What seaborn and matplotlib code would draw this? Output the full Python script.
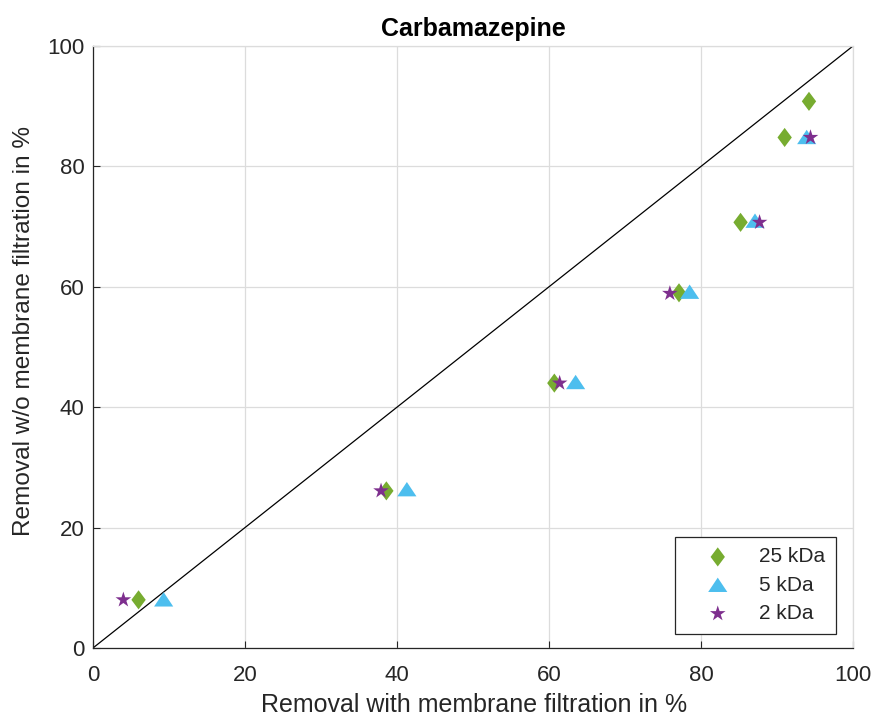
import matplotlib
matplotlib.use("Agg")
import matplotlib.pyplot as plt
from matplotlib.path import Path
import seaborn as sns
import pandas as pd

# Removal with membrane filtration (x) vs. without (y), in %
x_25kda = [6.0, 38.6, 60.7, 77.1, 85.2, 91.0, 94.2]
y_25kda = [8.0, 26.1, 44.0, 59.0, 70.7, 84.8, 90.8]

x_5kda = [9.3, 41.3, 63.5, 78.5, 87.1, 93.9]
y_5kda = [8.0, 26.3, 44.1, 59.1, 70.9, 84.8]

x_2kda = [4.0, 37.9, 61.4, 75.9, 87.7, 94.4]
y_2kda = [8.0, 26.1, 44.0, 58.9, 70.7, 84.8]

ticks = [0, 20, 40, 60, 80, 100]

# Marker shapes: a slightly wide diamond and a squat triangle
diamond = Path([(0, 1), (0.75, 0), (0, -1), (-0.75, 0), (0, 1)],
               [Path.MOVETO, Path.LINETO, Path.LINETO, Path.LINETO, Path.CLOSEPOLY])
triangle = Path([(0, 0.8), (1, -0.7), (-1, -0.7), (0, 0.8)],
                [Path.MOVETO, Path.LINETO, Path.LINETO, Path.CLOSEPOLY])

series = [
    ("25 kDa", x_25kda, y_25kda, diamond, "#77AC30", 190),
    ("5 kDa", x_5kda, y_5kda, triangle, "#4DBEEE", 190),
    ("2 kDa", x_2kda, y_2kda, "*", "#7E2F8E", 140),
]

sns.set_theme(style="whitegrid")
plt.rcParams["font.family"] = ["Liberation Sans", "DejaVu Sans"]

fig = plt.figure(figsize=(8.77, 7.18), dpi=100)
ax = fig.add_axes([0.106, 0.0975, 0.8667, 0.8385])

# Line of equal removal
ax.plot([0, 100], [0, 100], color="black", linewidth=0.9, zorder=2)

for name, xs, ys, marker, color, size in series:
    df = pd.DataFrame({"x": xs, "y": ys})
    sns.scatterplot(data=df, x="x", y="y", marker=marker, color=color,
                    s=size, linewidth=0, edgecolor="none", label=name,
                    ax=ax, zorder=3)

ax.set_xlim(0, 100)
ax.set_ylim(0, 100)
ax.set_xticks(ticks)
ax.set_yticks(ticks)
ax.tick_params(axis="both", labelsize=16, colors="#262626", direction="in",
               length=5, width=0.8, bottom=True, left=True)
ax.tick_params(axis="x", pad=12)
ax.tick_params(axis="y", pad=6)
ax.grid(True, color="#dcdcdc", linewidth=0.9)
ax.set_facecolor("white")

for side in ["left", "bottom"]:
    ax.spines[side].set_color("#262626")
    ax.spines[side].set_linewidth(0.9)
for side in ["top", "right"]:
    ax.spines[side].set_color("#dcdcdc")
    ax.spines[side].set_linewidth(0.9)

ax.set_xlabel("Removal with membrane filtration in %", fontsize=18,
              color="#262626")
ax.set_ylabel("Removal w/o membrane filtration in %", fontsize=17.6,
              color="#262626")
ax.xaxis.set_label_coords(0.501, -0.074)
ax.yaxis.set_label_coords(-0.076, 0.527)
ax.set_title("Carbamazepine", fontsize=18, fontweight="bold", color="black",
             pad=7)

leg = ax.legend(loc="lower right", fontsize=15, frameon=True, fancybox=False,
                edgecolor="#262626", framealpha=1, borderpad=0.5,
                handlelength=3.1, handletextpad=0.45, labelspacing=0.45,
                borderaxespad=0, bbox_to_anchor=(0.9775, 0.024))
leg.get_frame().set_linewidth(0.9)

fig.savefig("out.png", dpi=100)
